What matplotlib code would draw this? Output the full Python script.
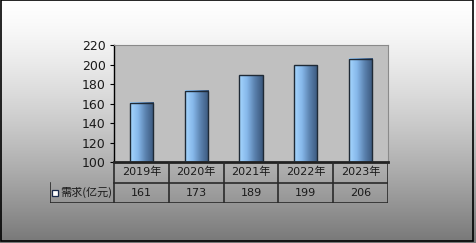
import numpy as np
import matplotlib
matplotlib.use("Agg")
import matplotlib.pyplot as plt
from matplotlib.colors import LinearSegmentedColormap
from matplotlib.patches import Rectangle

plt.rcParams['font.family'] = ['DejaVu Sans', 'Noto Sans CJK SC']

# Données
years = ['2019年', '2020年', '2021年', '2022年', '2023年']
demand = [161, 173, 189, 199, 206]
series_name = '需求(亿元)'
yticks = [100, 120, 140, 160, 180, 200, 220]

W, H = 477, 243
fig = plt.figure(figsize=(W / 100, H / 100), dpi=100, facecolor='white')

# Fond en dégradé vertical
bg = fig.add_axes([0, 0, 1, 1])
bg.set_axis_off()
t = np.linspace(0, 1, 256)[:, None]
grad = 1 - 0.53 * t ** 1.4
bg.imshow(np.dstack([grad, grad, grad]), aspect='auto', extent=[0, 1, 0, 1],
          origin='upper', zorder=0)
bg.set_xlim(0, 1)
bg.set_ylim(0, 1)
bg.add_patch(Rectangle((0.5 / W, 2.5 / H), 472.5 / W, 240 / H, fill=False,
                       edgecolor='black', lw=1.2, zorder=2))

# Zone du graphique
x0, x1 = 114, 388
ytop, ybot = 45, 162
ax = fig.add_axes([x0 / W, (H - ybot) / H, (x1 - x0) / W, (ybot - ytop) / H])
ax.set_facecolor('#c0c0c0')
ax.set_xlim(-0.5, 4.5)
ax.set_ylim(100, 220)
ax.set_yticks(yticks)
ax.tick_params(axis='y', direction='out', length=3, width=0.8, labelsize=9,
               labelcolor='#1a1a1a', pad=3)
ax.set_xticks([])
for s in ['top', 'right']:
    ax.spines[s].set_color('#8a8a8a')
    ax.spines[s].set_linewidth(0.8)
ax.spines['left'].set_color('black')
ax.spines['left'].set_linewidth(1)
ax.spines['bottom'].set_color('#222222')
ax.spines['bottom'].set_linewidth(2)

cmap = LinearSegmentedColormap.from_list(
    'bar', ['#a6d6ff', '#86b8ea', '#5a80ad', '#3a587c'])
bw = 0.42
xs = np.arange(len(years))
bars = ax.bar(xs, demand, width=bw, color='none', edgecolor='#1f2a36', lw=1, zorder=3)
hgrad = np.linspace(0, 1, 64)[None, :]
for b in bars:
    im = ax.imshow(hgrad, cmap=cmap, aspect='auto', zorder=2,
                   extent=[b.get_x(), b.get_x() + b.get_width(), 100, b.get_height()])
ax.set_xlim(-0.5, 4.5)
ax.set_ylim(100, 220)

# Tableau de données
hx = 50
tab = fig.add_axes([hx / W, (H - 203) / H, (x1 - hx) / W, 41 / H])
tab.set_axis_off()
left = -0.5 - (x0 - hx) / ((x1 - x0) / 5)
tab.set_xlim(left, 4.5)
tab.set_ylim(0, 2)
lc = '#2a2a2a'
tab.plot([-0.5, 4.5], [1, 1], color=lc, lw=1.2)
tab.plot([left, 4.5], [0, 0], color=lc, lw=1.2)
tab.plot([left, left], [0, 1], color=lc, lw=1.2)
for i in range(6):
    tab.plot([i - 0.5, i - 0.5], [0, 2], color=lc, lw=1.2)
for i, (yr, v) in enumerate(zip(years, demand)):
    tab.text(i, 1.5, yr, ha='center', va='center', fontsize=8, color='#1a1a1a')
    tab.text(i, 0.5, str(v), ha='center', va='center', fontsize=8, color='#1a1a1a')
tab.plot([left + 0.1], [0.5], marker='s', ms=4.5, mfc='white', mec='#1a2a4a', mew=0.9)
tab.text(left + 0.19, 0.5, series_name, ha='left', va='center', fontsize=8,
         color='#1a1a1a', family=['Noto Sans CJK SC', 'DejaVu Sans'])
for txt in tab.texts[:10:2]:
    txt.set_family(['DejaVu Sans', 'Noto Sans CJK SC'])

fig.savefig('out.png', dpi=100)
